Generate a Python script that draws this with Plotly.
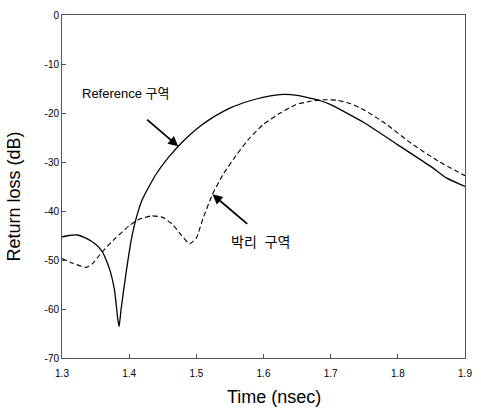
import plotly.graph_objects as go

ref_t = [1.300, 1.310, 1.323, 1.335, 1.350, 1.360, 1.370, 1.378, 1.383, 1.385, 1.388, 1.395, 1.403, 1.411,
         1.420, 1.440, 1.460, 1.480, 1.500, 1.520, 1.550, 1.580, 1.610, 1.630, 1.650, 1.685, 1.700, 1.750,
         1.800, 1.850, 1.873, 1.900]
ref_v = [-45.3, -45.0, -44.9, -45.5, -46.8, -48.3, -51.5, -56.0, -62.0, -63.6, -60.0, -53.0, -46.0, -41.2,
         -37.5, -32.5, -28.8, -25.8, -23.3, -21.3, -19.0, -17.5, -16.5, -16.2, -16.4, -17.5, -18.3, -22.0,
         -26.5, -31.0, -33.3, -35.0]

sep_t = [1.300, 1.315, 1.336, 1.345, 1.360, 1.380, 1.400, 1.415, 1.433, 1.450, 1.465, 1.478, 1.490, 1.500,
         1.510, 1.524, 1.540, 1.560, 1.580, 1.600, 1.625, 1.648, 1.670, 1.690, 1.710, 1.730, 1.750, 1.780,
         1.820, 1.860, 1.900]
sep_v = [-49.7, -50.6, -51.5, -50.8, -48.3, -45.5, -43.0, -41.7, -41.0, -41.3, -42.8, -45.0, -46.7, -45.5,
         -41.5, -36.6, -32.5, -28.5, -25.0, -22.3, -20.0, -18.3, -17.6, -17.3, -17.4, -18.1, -19.4, -22.0,
         -26.2, -29.8, -32.8]

x_ticks = [1.3, 1.4, 1.5, 1.6, 1.7, 1.8, 1.9]
y_ticks = [0, -10, -20, -30, -40, -50, -60, -70]

FONT = "Liberation Sans, Arial, Noto Sans CJK KR, sans-serif"

fig = go.Figure()
fig.add_trace(go.Scatter(x=ref_t, y=ref_v, mode="lines",
                         line=dict(color="black", width=1.3, shape="spline", smoothing=0.5),
                         showlegend=False))
fig.add_trace(go.Scatter(x=sep_t, y=sep_v, mode="lines",
                         line=dict(color="black", width=1.1, dash="5px,3px", shape="spline", smoothing=0.5),
                         showlegend=False))

fig.add_annotation(x=1.473, y=-26.8, ax=1.4245, ay=-21.1, axref="x", ayref="y",
                   text="", showarrow=True, arrowhead=2, arrowsize=1.1, arrowwidth=1.8, arrowcolor="black")
fig.add_annotation(x=1.395, y=-16.1, text="Reference 구역", showarrow=False,
                   font=dict(family=FONT, size=13, color="black"))
fig.add_annotation(x=1.524, y=-36.6, ax=1.578, ay=-42.9, axref="x", ayref="y",
                   text="", showarrow=True, arrowhead=2, arrowsize=1.1, arrowwidth=1.8, arrowcolor="black")
fig.add_annotation(x=1.595, y=-46.3, text="박리  구역", showarrow=False,
                   font=dict(family=FONT, size=14, color="black"))

# axis titles placed as annotations (paper coords relative to plot area)
fig.add_annotation(xref="paper", yref="paper", x=0.525, y=-0.115, xanchor="center", yanchor="middle",
                   text="Time (nsec)", showarrow=False, font=dict(family=FONT, size=18, color="black"))
fig.add_annotation(xref="paper", yref="paper", x=-0.12, y=0.47, xanchor="center", yanchor="middle",
                   textangle=-90, text="Return loss (dB)", showarrow=False,
                   font=dict(family=FONT, size=18, color="black"))

fig.update_layout(
    width=481, height=408,
    margin=dict(l=62, r=9, t=10, b=50),
    paper_bgcolor="white", plot_bgcolor="white",
    font=dict(family=FONT, color="black"),
    xaxis=dict(range=[1.3, 1.9], tickvals=x_ticks, ticktext=[f"{v:.1f}" for v in x_ticks],
               ticks="inside", ticklen=4, tickcolor="#555", showgrid=False, zeroline=False,
               showline=True, linecolor="#555", linewidth=1, mirror=True, ticklabelstandoff=6,
               tickfont=dict(size=10)),
    yaxis=dict(range=[-70, 0], tickvals=y_ticks, ticktext=[str(v) for v in y_ticks],
               ticks="inside", ticklen=4, tickcolor="#555", showgrid=False, zeroline=False,
               showline=True, linecolor="#555", linewidth=1, mirror=True,
               tickfont=dict(size=10)),
)

fig.write_html("out.html")
